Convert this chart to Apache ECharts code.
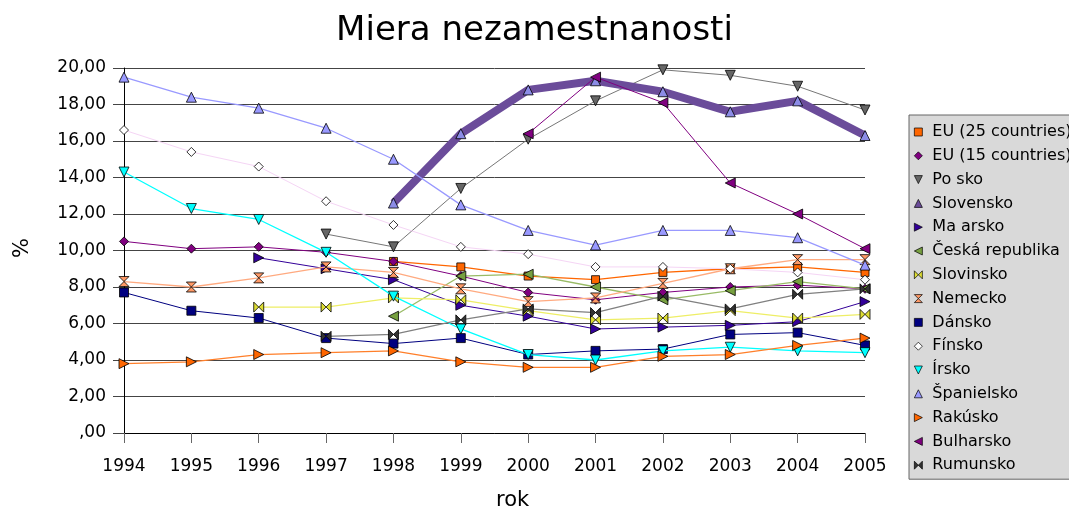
<!DOCTYPE html>
<html>
<head>
<meta charset="utf-8">
<script src="https://cdn.jsdelivr.net/npm/echarts@6/dist/echarts.min.js"></script>
<style>
html,body{margin:0;padding:0;background:#fff;}
#chart{width:1069px;height:511px;}
</style>
</head>
<body>
<div id="chart"></div>
<script>
// ---- data ----
const years = ['1994','1995','1996','1997','1998','1999','2000','2001','2002','2003','2004','2005'];
const yTicks = [0, 2, 4, 6, 8, 10, 12, 14, 16, 18, 20];
const eu25     = [null,null,null,null,9.4,9.1,8.6,8.4,8.8,9.0,9.1,8.8];
const eu15     = [10.5,10.1,10.2,9.9,9.4,8.6,7.7,7.3,7.7,8.0,8.1,7.9];
const polsko   = [null,null,null,10.9,10.2,13.4,16.1,18.2,19.9,19.6,19.0,17.7];
const slovensko= [null,null,null,null,12.6,16.4,18.8,19.3,18.7,17.6,18.2,16.3];
const madarsko = [null,null,9.6,9.0,8.4,7.0,6.4,5.7,5.8,5.9,6.1,7.2];
const cesko    = [null,null,null,null,6.4,8.6,8.7,8.0,7.3,7.8,8.3,7.9];
const slovinsko= [null,null,6.9,6.9,7.4,7.3,6.7,6.2,6.3,6.7,6.3,6.5];
const nemecko  = [8.3,8.0,8.5,9.1,8.8,7.9,7.2,7.4,8.2,9.0,9.5,9.5];
const dansko   = [7.7,6.7,6.3,5.2,4.9,5.2,4.3,4.5,4.6,5.4,5.5,4.8];
const finsko   = [16.6,15.4,14.6,12.7,11.4,10.2,9.8,9.1,9.1,9.0,8.8,8.4];
const irsko    = [14.3,12.3,11.7,9.9,7.5,5.7,4.3,4.0,4.5,4.7,4.5,4.4];
const spanielsko=[19.5,18.4,17.8,16.7,15.0,12.5,11.1,10.3,11.1,11.1,10.7,9.2];
const rakusko  = [3.8,3.9,4.3,4.4,4.5,3.9,3.6,3.6,4.2,4.3,4.8,5.2];
const bulharsko= [null,null,null,null,null,null,16.4,19.5,18.1,13.7,12.0,10.1];
const rumunsko = [null,null,null,5.3,5.4,6.2,6.8,6.6,7.5,6.8,7.6,7.9];

const names = ['EU (25 countries)','EU (15 countries)','Po sko','Slovensko','Ma arsko','Česká republika','Slovinsko','Nemecko','Dánsko','Fínsko','Írsko','Španielsko','Rakúsko','Bulharsko','Rumunsko'];
const values = [eu25,eu15,polsko,slovensko,madarsko,cesko,slovinsko,nemecko,dansko,finsko,irsko,spanielsko,rakusko,bulharsko,rumunsko];

// ---- styles ----
const SYM = {
  square: 'rect',
  diamond: 'diamond',
  up: 'path://M5,0L10,10L0,10Z',
  down: 'path://M0,0L10,0L5,10Z',
  right: 'path://M0,0L10,5L0,10Z',
  left: 'path://M10,0L0,5L10,10Z',
  bowtie: 'path://M0,0L5,5L0,10ZM10,0L5,5L10,10Z',
  hourglass: 'path://M0,0L10,0L5,5ZM0,10L10,10L5,5Z'
};
const styles = [
  {sym:SYM.square, size:8, fill:'#ff6600', line:'#ff6600', w:1.3},
  {sym:SYM.diamond, size:9, fill:'#800080', line:'#800080', w:1},
  {sym:SYM.down, size:10, fill:'#666666', line:'#777777', w:1},
  {sym:SYM.up, size:10, fill:'#8c8ce6', line:'#6b4c9a', w:8, legendFill:'#6b4c9a'},
  {sym:SYM.right, size:10, fill:'#330099', line:'#330099', w:1},
  {sym:SYM.left, size:10, fill:'#77a040', line:'#99bb66', w:1.3},
  {sym:SYM.bowtie, size:10, fill:'#dddd33', line:'#eeee66', w:1.3},
  {sym:SYM.hourglass, size:10, fill:'#ff9966', line:'#ffaa80', w:1.3},
  {sym:SYM.square, size:9, fill:'#000080', line:'#000080', w:1},
  {sym:SYM.diamond, size:9, fill:'#ffffff', line:'#f5d5f5', w:1},
  {sym:SYM.down, size:10, fill:'#00ffff', line:'#00ffff', w:1.3},
  {sym:SYM.up, size:10, fill:'#9999ff', line:'#9999ff', w:1.3},
  {sym:SYM.right, size:10, fill:'#ff6600', line:'#ff7f2a', w:1.3},
  {sym:SYM.left, size:10, fill:'#800080', line:'#800080', w:1},
  {sym:SYM.bowtie, size:10, fill:'#333333', line:'#808080', w:1.3}
];

const series = names.map((n, i) => ({
  name: n,
  type: 'line',
  data: values[i],
  symbol: styles[i].sym,
  symbolSize: styles[i].size,
  showAllSymbol: true,
  connectNulls: false,
  animation: false,
  itemStyle: {color: styles[i].fill, borderColor: '#000', borderWidth: 0.8},
  lineStyle: {color: styles[i].line, width: styles[i].w},
  emphasis: {disabled: true},
  z: 2 + i
}));

const legendData = names.map((n, i) => ({
  name: n,
  icon: styles[i].sym,
  itemStyle: {color: styles[i].legendFill || styles[i].fill, borderColor: '#000', borderWidth: 0.7}
}));

const chart = echarts.init(document.getElementById('chart'), null, {renderer: 'canvas'});
chart.setOption({
  backgroundColor: '#ffffff',
  animation: false,
  textStyle: {fontFamily: 'DejaVu Sans'},
  title: {
    text: 'Miera nezamestnanosti',
    left: 'center',
    top: 9,
    textStyle: {fontFamily: 'DejaVu Sans', fontSize: 34, fontWeight: 'normal', color: '#000'}
  },
  grid: {left: 124, right: 204, top: 68, bottom: 78, containLabel: false},
  xAxis: {
    type: 'category',
    data: years,
    boundaryGap: false,
    axisLine: {show: true, lineStyle: {color: '#000', width: 1}},
    axisTick: {show: true, length: 10, alignWithLabel: true, lineStyle: {color: '#666'}},
    axisLabel: {fontSize: 17, color: '#000', margin: 25, fontFamily: 'DejaVu Sans'},
    splitLine: {show: false}
  },
  yAxis: {
    type: 'value',
    min: yTicks[0],
    max: yTicks[yTicks.length - 1],
    interval: 2,
    axisLine: {show: true, lineStyle: {color: '#000', width: 1}},
    axisTick: {show: true, length: 11, lineStyle: {color: '#444'}},
    axisLabel: {
      fontSize: 17, color: '#000', margin: 18, fontFamily: 'DejaVu Sans',
      formatter: v => v === 0 ? ',00' : v.toFixed(2).replace('.', ',')
    },
    splitLine: {show: true, lineStyle: {color: '#444', width: 1}}
  },
  legend: {
    orient: 'vertical',
    left: 909,
    top: 115,
    padding: [8, 8, 5, 5],
    itemWidth: 8,
    itemHeight: 8,
    itemGap: 5.8,
    backgroundColor: '#d9d9d9',
    borderColor: '#666',
    borderWidth: 1,
    borderRadius: 0,
    selectedMode: false,
    data: legendData,
    textStyle: {fontSize: 16, lineHeight: 18, color: '#000', fontFamily: 'DejaVu Sans', padding: [0, 0, 0, 5]}
  },
  graphic: [
    {type: 'text', left: 12, top: 238, rotation: Math.PI / 2,
     style: {text: '%', fontSize: 21, fill: '#000', fontFamily: 'DejaVu Sans'}},
    {type: 'text', left: 496, top: 490,
     style: {text: 'rok', fontSize: 21, fill: '#000', fontFamily: 'DejaVu Sans'}}
  ],
  series: series
});
</script>
</body>
</html>
